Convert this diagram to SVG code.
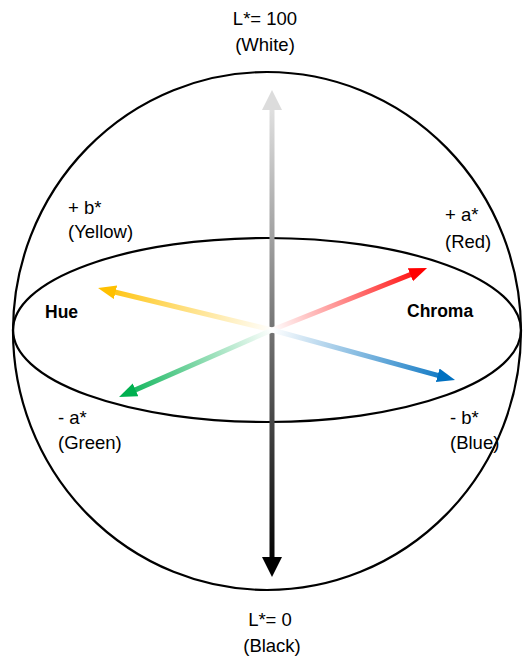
<svg xmlns="http://www.w3.org/2000/svg" width="523" height="659" viewBox="0 0 523 659">
<style>
text{font-family:"Liberation Sans",Arial,sans-serif;font-size:18.5px;fill:#000;}
.b{font-weight:bold;font-size:17.5px;}
.outline{fill:none;stroke:#000;stroke-width:2.2;}
.shaft{stroke-width:5;fill:none;}
</style>
<defs>
<linearGradient id="gL" gradientUnits="userSpaceOnUse" x1="272" y1="100" x2="272" y2="565"><stop offset="0" stop-color="#e4e4e4"/><stop offset="1" stop-color="#000"/></linearGradient>
<linearGradient id="gY" gradientUnits="userSpaceOnUse" x1="272" y1="330" x2="98" y2="288"><stop offset="0" stop-color="#fff"/><stop offset="1" stop-color="#FFC000"/></linearGradient>
<linearGradient id="gR" gradientUnits="userSpaceOnUse" x1="272" y1="330" x2="427" y2="268"><stop offset="0" stop-color="#fff"/><stop offset="1" stop-color="#FF0000"/></linearGradient>
<linearGradient id="gB" gradientUnits="userSpaceOnUse" x1="272" y1="330" x2="455" y2="380"><stop offset="0" stop-color="#fff"/><stop offset="1" stop-color="#0070C0"/></linearGradient>
<linearGradient id="gG" gradientUnits="userSpaceOnUse" x1="272" y1="330" x2="119" y2="397"><stop offset="0" stop-color="#fff"/><stop offset="1" stop-color="#00B050"/></linearGradient>
<marker id="mTop" markerUnits="userSpaceOnUse" markerWidth="22" markerHeight="22" refX="2" refY="10" orient="auto-start-reverse"><path d="M0,0 L20,10 L0,20 Z" fill="#dcdcdc"/></marker>
<marker id="mBot" markerUnits="userSpaceOnUse" markerWidth="22" markerHeight="22" refX="2" refY="10" orient="auto"><path d="M0,0 L20,10 L0,20 Z" fill="#000"/></marker>
<marker id="mY" markerUnits="userSpaceOnUse" markerWidth="20" markerHeight="16" refX="2" refY="7" orient="auto"><path d="M0,0 L18,7 L0,14 Z" fill="#FFC000"/></marker>
<marker id="mR" markerUnits="userSpaceOnUse" markerWidth="20" markerHeight="16" refX="2" refY="7" orient="auto"><path d="M0,0 L18,7 L0,14 Z" fill="#FF0000"/></marker>
<marker id="mB" markerUnits="userSpaceOnUse" markerWidth="20" markerHeight="16" refX="2" refY="7" orient="auto"><path d="M0,0 L18,7 L0,14 Z" fill="#0070C0"/></marker>
<marker id="mG" markerUnits="userSpaceOnUse" markerWidth="20" markerHeight="16" refX="2" refY="7" orient="auto"><path d="M0,0 L18,7 L0,14 Z" fill="#00B050"/></marker>
</defs>
<g id="sphere"><ellipse class="outline" cx="267" cy="331" rx="254" ry="259"/></g>
<g id="equator"><ellipse class="outline" cx="267" cy="330" rx="254" ry="92"/></g>
<g id="connectors">
<line class="shaft" x1="272" y1="108" x2="272" y2="559" stroke="url(#gL)" marker-start="url(#mTop)" marker-end="url(#mBot)"/>
<line class="shaft" x1="272" y1="330" x2="113.6" y2="291.8" stroke="url(#gY)" marker-end="url(#mY)"/>
<line class="shaft" x1="272" y1="330" x2="412.2" y2="273.9" stroke="url(#gR)" marker-end="url(#mR)"/>
<line class="shaft" x1="272" y1="330" x2="439.6" y2="375.8" stroke="url(#gB)" marker-end="url(#mB)"/>
<line class="shaft" x1="272" y1="330" x2="133.7" y2="390.6" stroke="url(#gG)" marker-end="url(#mG)"/>
</g>
<g id="white"><text x="265" y="25" text-anchor="middle">L*= 100</text><text x="265" y="51" text-anchor="middle">(White)</text></g>
<g id="yellow"><text x="68" y="214">+ b*</text><text x="68" y="238">(Yellow)</text></g>
<g id="hue"><text class="b" x="45" y="318">Hue</text></g>
<g id="red"><text x="445" y="221">+ a*</text><text x="445" y="248">(Red)</text></g>
<g id="chroma"><text class="b" x="407" y="317">Chroma</text></g>
<g id="green"><text x="58" y="424">- a*</text><text x="58" y="449">(Green)</text></g>
<g id="blue"><text x="450" y="424">- b*</text><text x="450" y="449">(Blue)</text></g>
<g id="black"><text x="270" y="626" text-anchor="middle">L*= 0</text><text x="272" y="652" text-anchor="middle">(Black)</text></g>
</svg>
